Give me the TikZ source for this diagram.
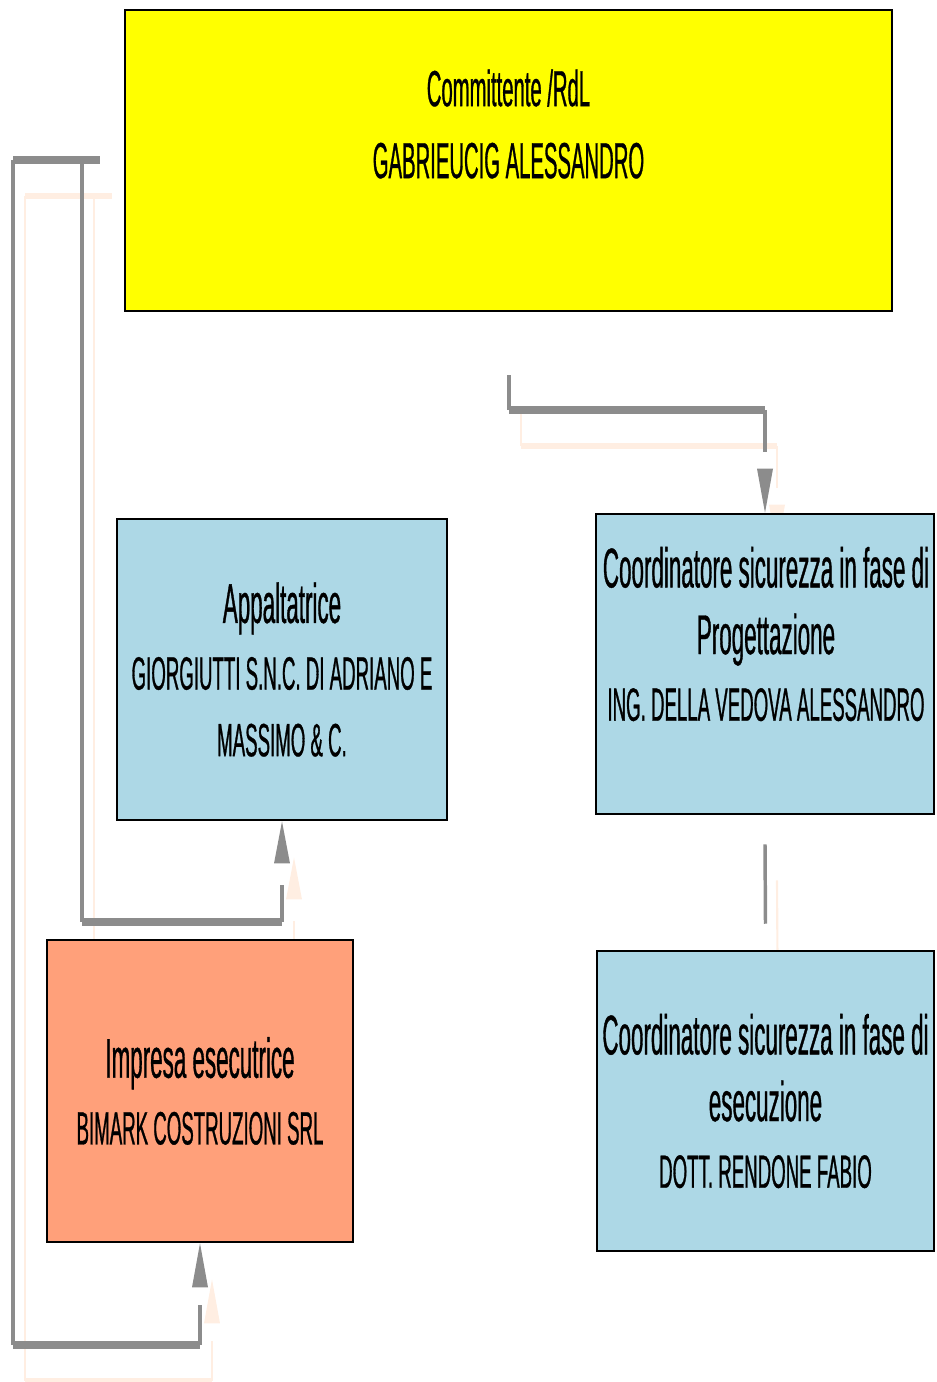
\documentclass[tikz,border=0pt]{standalone}
\usepackage{fontspec}
\usetikzlibrary{calc,backgrounds}
\newfontfamily\narrowfont[FakeStretch=0.4,FakeBold=0.6]{Liberation Sans}
\newcommand\topfont{\narrowfont\fontsize{38}{54}\selectfont}
\newcommand\rolefont{\narrowfont\fontsize{42}{50}\selectfont}
\newcommand\namefont{\narrowfont\fontsize{35}{50}\selectfont}
\definecolor{boxyellow}{RGB}{255,255,0}
\definecolor{boxblue}{RGB}{173,216,230}
\definecolor{boxorange}{RGB}{255,160,122}
\definecolor{linkgrey}{RGB}{140,140,140}
\definecolor{linkshadow}{RGB}{255,238,226}

% connectors, drawn twice (shadow + grey)
\newcommand\orglinks{
  \coordinate (barL) at (13,160);
  \coordinate (barM) at (82,160);
  \coordinate (barR) at (100,160);
  \draw[hline] (barL) -- (barR);
  \draw[vline] (barL) -- (13,1345) coordinate (lowL);
  \draw[hline] (lowL) -- (lowL -| impresa.south) coordinate (lowR);
  \draw[vline] (lowR) -- ++(0,-40);
  \fill[tipfill] (impresa.south) -- ++(-8,44) -- ++(16,0) -- cycle;
  \draw[vline] (barM) -- (82,922) coordinate (midL);
  \draw[hline] (midL) -- (midL -| appaltatrice.south) coordinate (midR);
  \draw[vline] (midR) -- ++(0,-37);
  \fill[tipfill] (appaltatrice.south) -- ++(-8,42) -- ++(16,0) -- cycle;
  \draw[vline] (509,375) coordinate (topC) -- (509,410) coordinate (topL);
  \draw[hline] (topL) -- (topL -| cspro.north) coordinate (topR);
  \draw[vline] (topR) -- ++(0,42);
  \fill[tipfill] (cspro.north) -- ++(-8,-44) -- ++(16,0) -- cycle;
  \draw[vline] ($(cspro.south)+(0,29)$) -- ($(csese.north)+(0,-26)$);
}

\begin{document}
\begin{tikzpicture}[x=0.75pt,y=-0.75pt,
    orgbox/.style={draw=black, line width=1.9pt, rectangle, inner sep=0pt, align=center, font=\namefont},
    hline/.style={draw=linkgrey, line width=6pt},
    vline/.style={draw=linkgrey, line width=2.6pt},
    tipfill/.style={fill=linkgrey}]
  \useasboundingbox (0,0) rectangle (936,1382);

  \node[orgbox, fill=boxyellow, minimum width=575pt, minimum height=226pt] (committente) at (508.5,160.5) {};
  \node[font=\topfont, align=center] (committente text) at (508.5,124) {Committente /RdL\\GABRIEUCIG ALESSANDRO};

  \node[orgbox, fill=boxblue, minimum width=247.5pt, minimum height=226pt] (appaltatrice) at (282,669.5)
    {{\rolefont Appaltatrice}\\GIORGIUTTI S.N.C. DI ADRIANO E\\MASSIMO \& C.};

  \node[orgbox, fill=boxblue, minimum width=253.5pt, minimum height=225pt] (cspro) at (765,664) {};
  \node[font=\namefont, align=center] (cspro text) at (766,634)
    {{\rolefont Coordinatore sicurezza in fase di}\\{\rolefont Progettazione}\\ING. DELLA VEDOVA ALESSANDRO};

  \node[orgbox, fill=boxorange, minimum width=229.5pt, minimum height=226.5pt] (impresa) at (200,1091)
    {{\rolefont Impresa esecutrice}\\BIMARK COSTRUZIONI SRL};

  \node[orgbox, fill=boxblue, minimum width=252.75pt, minimum height=225pt] (csese) at (765.5,1101)
    {{\rolefont Coordinatore sicurezza in fase di}\\{\rolefont esecuzione}\\DOTT. RENDONE FABIO};

  \begin{pgfonlayer}{background}
    \begin{scope}[transform canvas={shift={(12,36)}},
        hline/.append style={line width=4pt}, vline/.append style={line width=1.6pt}]
      \colorlet{linkgrey}{linkshadow}
      \orglinks
    \end{scope}
  \end{pgfonlayer}
  \orglinks
\end{tikzpicture}
\end{document}
